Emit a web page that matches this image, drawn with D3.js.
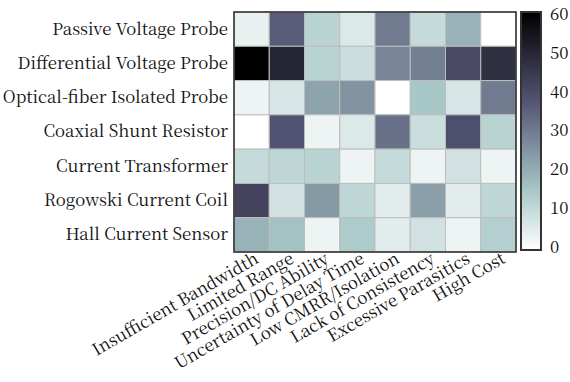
<!DOCTYPE html>
<html>
<head>
<meta charset="utf-8">
<script src="https://cdn.jsdelivr.net/npm/d3@7"></script>
<style>
  html, body { margin: 0; padding: 0; background: #fff; }
  svg { display: block; }
</style>
</head>
<body>
<svg id="chart" width="570" height="382"></svg>
<script>
// Measurement methods (rows) and their shortcomings (columns)
const probes = [
  "Passive Voltage Probe",
  "Differential Voltage Probe",
  "Optical-fiber Isolated Probe",
  "Coaxial Shunt Resistor",
  "Current Transformer",
  "Rogowski Current Coil",
  "Hall Current Sensor"
];

const issues = [
  "Insufficient Bandwidth",
  "Limited Range",
  "Precision/DC Ability",
  "Uncertainty of Delay Time",
  "Low CMRR/Isolation",
  "Lack of Consistency",
  "Excessive Parasitics",
  "High Cost"
];

// One row of scores per probe, one value per issue
const passiveScores      = [4, 36, 12, 6, 30, 10, 19, 0];
const differentialScores = [60, 50, 12, 9, 28, 29, 40, 47];
const opticalScores      = [3, 7, 22, 25, 0, 15, 7, 30];
const coaxialScores      = [0, 38, 3, 6, 32, 9, 39, 12];
const transformerScores  = [10, 11, 12, 3, 10, 3, 8, 3];
const rogowskiScores     = [42, 8, 24, 11, 5, 23, 5, 11];
const hallScores         = [19, 16, 3, 14, 5, 8, 3, 13];

const scoreRows = [passiveScores, differentialScores, opticalScores, coaxialScores,
                   transformerScores, rogowskiScores, hallScores];

const colorTicks = [0, 10, 20, 30, 40, 50, 60];
const colorMax = 60;

const labelStyle = "font-family: 'Noto Serif CJK SC', 'Liberation Serif', serif; font-size: 16.8px;";

// "bone" colormap, piecewise linear segments per channel
const boneSegments = {
  r: [[0, 0], [0.746032, 0.652778], [1, 1]],
  g: [[0, 0], [0.365079, 0.319444], [0.746032, 0.777778], [1, 1]],
  b: [[0, 0], [0.365079, 0.444444], [1, 1]]
};
function channel(segs, t) {
  for (let i = 1; i < segs.length; i++) {
    if (t <= segs[i][0]) {
      const [x0, y0] = segs[i - 1], [x1, y1] = segs[i];
      return y0 + (t - x0) / (x1 - x0) * (y1 - y0);
    }
  }
  return segs[segs.length - 1][1];
}
function boneReversed(t) {
  const u = 1 - Math.max(0, Math.min(1, t));
  const c = k => Math.round(255 * channel(boneSegments[k], u));
  return `rgb(${c("r")},${c("g")},${c("b")})`;
}

const svg = d3.select("#chart");

const heat = { left: 234, right: 516, top: 12, bottom: 252 };
const bar = { left: 521, right: 541, top: 12, bottom: 250 };

const x = d3.scaleBand().domain(issues).range([heat.left, heat.right]);
const y = d3.scaleBand().domain(probes).range([heat.top, heat.bottom]);
const color = d3.scaleSequential(boneReversed).domain([0, colorMax]);

const cells = [];
scoreRows.forEach((row, i) => row.forEach((v, j) => cells.push({ probe: probes[i], issue: issues[j], value: v })));

// Heatmap cells with light gray separators
svg.append("g")
  .selectAll("rect")
  .data(cells)
  .join("rect")
  .attr("x", d => x(d.issue))
  .attr("y", d => y(d.probe))
  .attr("width", x.bandwidth())
  .attr("height", y.bandwidth())
  .attr("fill", d => color(d.value))
  .attr("stroke", "#bdbdbd")
  .attr("stroke-width", 1);

// Dark frame around the heatmap
svg.append("rect")
  .attr("x", heat.left)
  .attr("y", heat.top)
  .attr("width", heat.right - heat.left)
  .attr("height", heat.bottom - heat.top)
  .attr("fill", "none")
  .attr("stroke", "#333")
  .attr("stroke-width", 1.6);

function styleLabels(sel) {
  sel.attr("font-family", null).attr("font-size", null);
  sel.selectAll("text")
    .attr("style", labelStyle)
    .attr("fill", "#111");
}

// Row labels
const yAxis = svg.append("g")
  .attr("transform", `translate(${heat.left},0)`)
  .call(d3.axisLeft(y).tickSize(0).tickPadding(6));
yAxis.select(".domain").remove();
styleLabels(yAxis);

// Column labels, rotated
const xAxis = svg.append("g")
  .attr("transform", `translate(0,${heat.bottom})`)
  .call(d3.axisBottom(x).tickSize(0));
xAxis.select(".domain").remove();
styleLabels(xAxis);
xAxis.selectAll("text")
  .attr("y", null)
  .attr("dy", null)
  .attr("text-anchor", "end")
  .attr("transform", "translate(8,10) rotate(-30)");

// Colorbar
const defs = svg.append("defs");
const grad = defs.append("linearGradient")
  .attr("id", "cbar")
  .attr("x1", 0).attr("y1", 1).attr("x2", 0).attr("y2", 0);
d3.range(0, 1.0001, 0.05).forEach(t => {
  grad.append("stop").attr("offset", t).attr("stop-color", color(t * colorMax));
});

svg.append("rect")
  .attr("x", bar.left)
  .attr("y", bar.top)
  .attr("width", bar.right - bar.left)
  .attr("height", bar.bottom - bar.top)
  .attr("fill", "url(#cbar)")
  .attr("stroke", "#333")
  .attr("stroke-width", 2);

const cScale = d3.scaleLinear().domain([0, colorMax]).range([bar.bottom - 3, bar.top + 2]);
const cAxis = svg.append("g")
  .attr("transform", `translate(${bar.right},0)`)
  .call(d3.axisRight(cScale).tickValues(colorTicks).tickSize(0).tickPadding(9).tickFormat(d3.format("d")));
cAxis.select(".domain").remove();
styleLabels(cAxis);
</script>
</body>
</html>
